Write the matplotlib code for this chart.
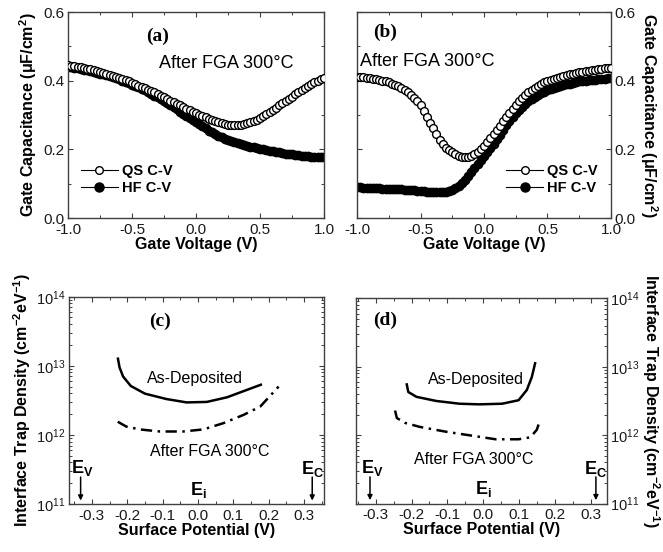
import numpy as np
import matplotlib
matplotlib.use('Agg')
import matplotlib.pyplot as plt
from matplotlib.ticker import MultipleLocator, LogLocator, NullFormatter
from matplotlib.lines import Line2D

plt.rcParams['font.family'] = ['Liberation Sans', 'DejaVu Sans']
plt.rcParams['mathtext.fontset'] = 'custom'
plt.rcParams['mathtext.rm'] = 'Liberation Sans'
plt.rcParams['mathtext.bf'] = 'Liberation Sans:bold'
plt.rcParams['axes.unicode_minus'] = False

# gate voltage sweep (V), 0.025 V step
vg = np.linspace(-1.0, 1.0, 81)

# (a) C-V, uF/cm2
qs_a = [0.445, 0.444, 0.442, 0.441, 0.439, 0.437, 0.435, 0.433, 0.431,
        0.428, 0.426, 0.423, 0.420, 0.417, 0.414, 0.411, 0.408, 0.405,
        0.401, 0.398, 0.394, 0.390, 0.386, 0.382, 0.378, 0.374, 0.370,
        0.366, 0.361, 0.357, 0.352, 0.347, 0.342, 0.337, 0.332, 0.328,
        0.323, 0.318, 0.314, 0.310, 0.305, 0.301, 0.297, 0.293, 0.289,
        0.285, 0.282, 0.279, 0.276, 0.274, 0.272, 0.271, 0.271, 0.271,
        0.272, 0.274, 0.276, 0.279, 0.283, 0.287, 0.292, 0.297, 0.303,
        0.309, 0.315, 0.321, 0.328, 0.334, 0.341, 0.348, 0.354, 0.361,
        0.367, 0.373, 0.379, 0.385, 0.390, 0.395, 0.400, 0.404, 0.408]
hf_a = [0.440, 0.439, 0.437, 0.436, 0.434, 0.432, 0.430, 0.428, 0.426,
        0.424, 0.421, 0.419, 0.416, 0.413, 0.410, 0.407, 0.404, 0.400,
        0.397, 0.393, 0.389, 0.385, 0.381, 0.376, 0.372, 0.367, 0.362,
        0.357, 0.352, 0.346, 0.341, 0.335, 0.329, 0.323, 0.317, 0.310,
        0.304, 0.298, 0.292, 0.285, 0.279, 0.273, 0.267, 0.261, 0.255,
        0.250, 0.244, 0.240, 0.235, 0.231, 0.227, 0.224, 0.221, 0.218,
        0.215, 0.213, 0.211, 0.208, 0.206, 0.204, 0.202, 0.200, 0.198,
        0.196, 0.194, 0.193, 0.191, 0.190, 0.188, 0.187, 0.186, 0.184,
        0.183, 0.182, 0.181, 0.180, 0.179, 0.178, 0.178, 0.177, 0.177]

# (b) C-V, uF/cm2
qs_b = [0.412, 0.411, 0.410, 0.409, 0.408, 0.406, 0.404, 0.402, 0.400,
        0.398, 0.396, 0.392, 0.388, 0.384, 0.379, 0.373, 0.366, 0.359,
        0.350, 0.340, 0.328, 0.312, 0.295, 0.278, 0.261, 0.245, 0.228,
        0.215, 0.204, 0.197, 0.191, 0.186, 0.182, 0.179, 0.178, 0.179,
        0.181, 0.186, 0.192, 0.200, 0.211, 0.222, 0.233, 0.245, 0.257,
        0.269, 0.282, 0.294, 0.306, 0.318, 0.329, 0.340, 0.350, 0.358,
        0.366, 0.373, 0.380, 0.386, 0.391, 0.395, 0.399, 0.403, 0.406,
        0.409, 0.412, 0.414, 0.417, 0.419, 0.421, 0.423, 0.425, 0.426,
        0.428, 0.429, 0.431, 0.432, 0.434, 0.435, 0.436, 0.437, 0.438]
hf_b = [0.089, 0.089, 0.088, 0.088, 0.088, 0.087, 0.087, 0.087, 0.086,
        0.086, 0.086, 0.085, 0.085, 0.084, 0.084, 0.083, 0.083, 0.082,
        0.081, 0.080, 0.079, 0.078, 0.077, 0.076, 0.076, 0.075, 0.075,
        0.076, 0.077, 0.079, 0.082, 0.087, 0.094, 0.102, 0.111, 0.122,
        0.134, 0.146, 0.158, 0.170, 0.181, 0.192, 0.204, 0.216, 0.229,
        0.242, 0.256, 0.270, 0.283, 0.295, 0.306, 0.316, 0.325, 0.333,
        0.340, 0.347, 0.353, 0.359, 0.364, 0.368, 0.372, 0.376, 0.379,
        0.382, 0.385, 0.388, 0.390, 0.392, 0.394, 0.396, 0.398, 0.399,
        0.400, 0.401, 0.402, 0.403, 0.404, 0.405, 0.406, 0.407, 0.408]

# (c) Dit vs surface potential
psi_c_dep = [-0.227, -0.222, -0.212, -0.190, -0.150, -0.089, -0.032, 0.025, 0.082, 0.129, 0.181]
dit_c_dep = [1.32e13, 9.5e12, 7.0e12, 5.1e12, 3.95e12, 3.3e12, 2.95e12, 3.0e12, 3.5e12, 4.3e12, 5.4e12]
psi_c_fga = [-0.227, -0.203, -0.165, -0.108, -0.042, 0.015, 0.072, 0.129, 0.176, 0.228]
dit_c_fga = [1.55e12, 1.32e12, 1.2e12, 1.12e12, 1.12e12, 1.2e12, 1.48e12, 1.95e12, 2.57e12, 5.0e12]

# (d) Dit vs surface potential
psi_d_dep = [-0.214, -0.209, -0.186, -0.131, -0.066, -0.011, 0.053, 0.099, 0.122, 0.136, 0.146]
dit_d_dep = [5.75e12, 4.27e12, 3.63e12, 3.16e12, 2.88e12, 2.82e12, 2.88e12, 3.24e12, 4.57e12, 7.08e12, 1.17e13]
psi_d_fga = [-0.246, -0.241, -0.218, -0.177, -0.103, -0.030, 0.035, 0.099, 0.132, 0.150, 0.159]
dit_d_fga = [2.29e12, 1.78e12, 1.51e12, 1.32e12, 1.12e12, 9.8e11, 8.7e11, 8.7e11, 9.3e11, 1.2e12, 1.66e12]

band_x_c = [-0.332, 0.0, 0.323]
band_x_d = [-0.316, 0.0, 0.315]

fig = plt.figure(figsize=(6.63, 5.52), dpi=100)
ax_a = fig.add_axes([0.1026, 0.605, 0.386, 0.373])
ax_b = fig.add_axes([0.5385, 0.605, 0.383, 0.373])
ax_c = fig.add_axes([0.104, 0.087, 0.384, 0.3755])
ax_d = fig.add_axes([0.537, 0.0878, 0.378, 0.3717])

lab_font = dict(fontsize=11.5, fontweight='bold')
spine_col = '#404040'


def style(ax, size=11):
    for s in ax.spines.values():
        s.set_color(spine_col)
        s.set_linewidth(1.0)
    ax.tick_params(which='both', direction='in', top=True, right=True,
                   colors=spine_col, labelcolor='#1a1a1a', labelsize=size, pad=2.5)
    ax.tick_params(axis='x', which='major', pad=3.5)
    ax.tick_params(which='major', length=3.5, width=0.8)
    ax.tick_params(which='minor', length=2, width=0.7)


def cv_panel(ax, qs, hf, tag, tag_xy, note_xy, leg_loc, leg_anchor):
    ax.plot(vg, hf, '-', color='k', lw=0.8, marker='o', ms=6, mfc='k', mec='k', zorder=2)
    ax.plot(vg, qs, '-', color='k', lw=0.8, marker='o', ms=5.6, mfc='white', mec='k', mew=1.0, zorder=3)
    ax.set_xlim(-1.0, 1.0)
    ax.set_ylim(0.0, 0.6)
    ax.xaxis.set_major_locator(MultipleLocator(0.5))
    ax.xaxis.set_minor_locator(MultipleLocator(0.25))
    ax.yaxis.set_major_locator(MultipleLocator(0.2))
    ax.yaxis.set_minor_locator(MultipleLocator(0.1))
    ax.xaxis.set_major_formatter(lambda v, p: f'{v:.1f}')
    ax.yaxis.set_major_formatter(lambda v, p: f'{v:.1f}')
    style(ax)
    ax.set_xlabel('Gate Voltage (V)', labelpad=0, **lab_font)
    ax.text(*tag_xy, tag, family='Liberation Serif', fontweight='bold', fontsize=14,
            ha='center', va='center')
    ax.text(*note_xy, 'After FGA 300°C', fontsize=13, ha='center', va='center')
    handles = [Line2D([], [], color='k', lw=0.8, marker='o', ms=5.5, mfc='white', mec='k'),
               Line2D([], [], color='k', lw=0.8, marker='o', ms=6.5, mfc='k', mec='k')]
    ax.legend(handles, ['QS C-V', 'HF C-V'], loc=leg_loc, bbox_to_anchor=leg_anchor,
              frameon=False, handlelength=2.5, handletextpad=0.3, labelspacing=0.2,
              prop=dict(family='Liberation Sans', weight='bold', size=10.5))


cv_panel(ax_a, qs_a, hf_a, '(a)', (-0.30, 0.53), (0.24, 0.45), 'lower left', (0.0, 0.05))
ax_a.set_ylabel('Gate Capacitance (μF/cm$^\\mathbf{2}$)', labelpad=3, **lab_font)

cv_panel(ax_b, qs_b, hf_b, '(b)', (-0.78, 0.54), (-0.45, 0.455), 'lower right', (1.0, 0.05))
ax_b.tick_params(which='both', labelleft=False, labelright=True)
ax_b.yaxis.set_label_position('right')
ax_b.set_ylabel('Gate Capacitance (μF/cm$^\\mathbf{2}$)', rotation=-90, va='bottom',
                labelpad=2, **lab_font)


def dit_panel(ax, psi_dep, dit_dep, psi_fga, dit_fga, xlim, tag, tag_xy,
              dep_xy, fga_xy, bx):
    ax.plot(psi_dep, dit_dep, '-', color='k', lw=1.8, solid_capstyle='butt')
    ax.plot(psi_fga, dit_fga, color='k', lw=1.8, ls=(0, (4.5, 2.2, 1, 2.2)))
    ax.set_yscale('log')
    ax.set_xlim(*xlim)
    ax.set_ylim(1e11, 1e14)
    ax.xaxis.set_major_locator(MultipleLocator(0.1))
    ax.xaxis.set_minor_locator(MultipleLocator(0.05))
    ax.xaxis.set_major_formatter(lambda v, p: f'{v:.1f}')
    ax.yaxis.set_major_locator(LogLocator(base=10, numticks=10))
    ax.yaxis.set_minor_locator(LogLocator(base=10, subs=np.arange(2, 10), numticks=10))
    ax.yaxis.set_minor_formatter(NullFormatter())
    style(ax)
    ax.tick_params(axis='y', which='major', labelsize=10.5)
    ax.set_xlabel('Surface Potential (V)', labelpad=0, **lab_font)
    ax.text(*tag_xy, tag, family='Liberation Serif', fontweight='bold', fontsize=14,
            ha='center', va='center')
    ax.text(*dep_xy, 'As-Deposited', fontsize=11.5, ha='center', va='center')
    ax.text(*fga_xy, 'After FGA 300°C', fontsize=11.5, ha='center', va='center')
    # band edge markers
    ax.text(bx[0] + 0.006, 3.3e11, 'E$_\\mathbf{V}$', fontsize=13, fontweight='bold',
            ha='center', va='center')
    ax.text(bx[1], 1.62e11, 'E$_\\mathbf{i}$', fontsize=13, fontweight='bold',
            ha='center', va='center')
    ax.text(bx[2], 3.2e11, 'E$_\\mathbf{C}$', fontsize=13, fontweight='bold',
            ha='center', va='center')
    for x in (bx[0], bx[2]):
        ax.annotate('', xy=(x, 1.12e11), xytext=(x, 2.45e11),
                    arrowprops=dict(arrowstyle='-|>', color='k', lw=1.1,
                                    mutation_scale=7, shrinkA=0, shrinkB=0))


dit_panel(ax_c, psi_c_dep, dit_c_dep, psi_c_fga, dit_c_fga, (-0.365, 0.355), '(c)',
          (-0.108, 4.4e13), (-0.009, 6.6e12), (0.034, 5.8e11), band_x_c)
ax_c.set_ylabel('Interface Trap Density (cm$^\\mathbf{-2}$eV$^\\mathbf{-1}$)', labelpad=2,
                **lab_font)

dit_panel(ax_d, psi_d_dep, dit_d_dep, psi_d_fga, dit_d_fga, (-0.355, 0.345), '(d)',
          (-0.273, 4.8e13), (-0.02, 6.5e12), (-0.025, 4.4e11), band_x_d)
ax_d.tick_params(which='both', labelleft=False, labelright=True)
ax_d.yaxis.set_label_position('right')
ax_d.set_ylabel('Interface Trap Density (cm$^\\mathbf{-2}$eV$^\\mathbf{-1}$)', rotation=-90,
                va='bottom', labelpad=0, **lab_font)

fig.savefig('out.png', dpi=100)
